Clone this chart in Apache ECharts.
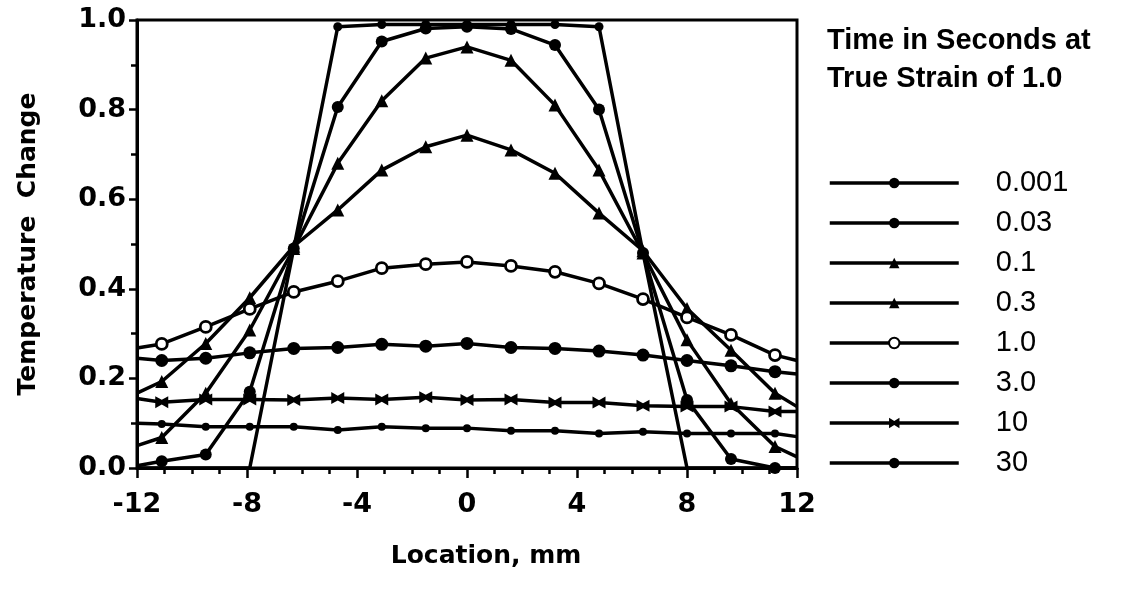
<!DOCTYPE html>
<html>
<head>
<meta charset="utf-8">
<script src="https://cdn.jsdelivr.net/npm/echarts@6/dist/echarts.min.js"></script>
<style>
html,body{margin:0;padding:0;background:#fff;}
#chart{width:1130px;height:605px;}
</style>
</head>
<body>
<div id="chart"></div>
<script>
// Location (mm) of each computed point; the first and last are the plot edges
const locations = [-12, -11.1, -9.5, -7.9, -6.3, -4.7, -3.1, -1.5, 0, 1.6, 3.2, 4.8, 6.4, 8.0, 9.6, 11.2, 12];

// Temperature change for each time (seconds at true strain of 1.0)
const t0001 = [0, 0, 0, 0, 0.49, 0.985, 0.99, 0.99, 0.99, 0.99, 0.99, 0.985, 0.48, 0, 0, 0, 0];
const t003  = [0.005, 0.015, 0.03, 0.17, 0.49, 0.806, 0.952, 0.981, 0.985, 0.98, 0.944, 0.80, 0.48, 0.152, 0.02, 0.0, 0.0];
const t01   = [0.05, 0.068, 0.167, 0.308, 0.49, 0.68, 0.82, 0.915, 0.94, 0.91, 0.81, 0.665, 0.48, 0.286, 0.144, 0.048, 0.025];
const t03   = [0.167, 0.193, 0.278, 0.38, 0.495, 0.576, 0.665, 0.717, 0.743, 0.71, 0.658, 0.569, 0.485, 0.356, 0.263, 0.167, 0.137];
const t1    = [0.268, 0.277, 0.315, 0.355, 0.393, 0.417, 0.446, 0.455, 0.46, 0.451, 0.438, 0.412, 0.377, 0.336, 0.297, 0.252, 0.24];
const t3    = [0.245, 0.24, 0.245, 0.257, 0.267, 0.269, 0.276, 0.272, 0.278, 0.269, 0.267, 0.261, 0.252, 0.24, 0.228, 0.215, 0.21];
const t10   = [0.155, 0.147, 0.153, 0.153, 0.152, 0.156, 0.153, 0.158, 0.152, 0.153, 0.146, 0.146, 0.139, 0.137, 0.137, 0.126, 0.126];
const t30   = [0.10, 0.098, 0.092, 0.092, 0.092, 0.085, 0.092, 0.089, 0.089, 0.083, 0.083, 0.077, 0.081, 0.077, 0.077, 0.077, 0.07];

const seriesNames = ['0.001', '0.03', '0.1', '0.3', '1.0', '3.0', '10', '30'];
const xTickValues = [-12, -8, -4, 0, 4, 8, 12];
const xTickLabels = ['-12', '-8', '-4', '0', '4', '8', '12'];
const yTickValues = [0, 0.2, 0.4, 0.6, 0.8, 1.0];
const yTickLabels = ['0.0', '0.2', '0.4', '0.6', '0.8', '1.0'];

const titleText = 'Time in Seconds at\nTrue Strain of 1.0';
const xAxisTitle = 'Location, mm';
const yAxisTitle = 'Temperature  Change';

const allValues = [t0001, t003, t01, t03, t1, t3, t10, t30];
const markers = [
  {symbol: 'circle', size: 9, fill: '#000'},
  {symbol: 'circle', size: 12, fill: '#000'},
  {symbol: 'triangle', size: 13, fill: '#000'},
  {symbol: 'triangle', size: 13, fill: '#000'},
  {symbol: 'circle', size: 11, fill: '#fff'},
  {symbol: 'circle', size: 13, fill: '#000'},
  {symbol: 'path://M0,0 L5,3 L10,0 L10,10 L5,7 L0,10 Z', size: [13, 12], fill: '#000'},
  {symbol: 'circle', size: 8, fill: '#000'}
];

function buildData(vals, hideZeros) {
  return vals.map(function (v, i) {
    const item = {value: [locations[i], v]};
    if (i === 0 || i === vals.length - 1 || (hideZeros && v === 0)) item.symbol = 'none';
    return item;
  });
}

const series = allValues.map(function (vals, k) {
  const m = markers[k];
  return {
    name: seriesNames[k],
    type: 'line',
    data: buildData(vals, k === 0),
    symbol: m.symbol,
    symbolSize: m.size,
    showAllSymbol: true,
    clip: false,
    lineStyle: {color: '#000', width: 3.5},
    itemStyle: {color: m.fill, borderColor: '#000', borderWidth: k === 4 ? 2.8 : 0},
    emphasis: {disabled: true},
    z: 3
  };
});

const axisFont = 'DejaVu Sans';
const chart = echarts.init(document.getElementById('chart'), null, {renderer: 'canvas'});
chart.setOption({
  animation: false,
  backgroundColor: '#fff',
  title: {
    text: titleText,
    left: 822,
    top: 17,
    textStyle: {fontFamily: 'Liberation Sans', fontSize: 29, fontWeight: 'bold', color: '#000', lineHeight: 38}
  },
  legend: {
    orient: 'vertical',
    left: 823,
    top: 162,
    itemWidth: 129,
    itemHeight: 13,
    itemGap: 8,
    data: seriesNames,
    lineStyle: {width: 3.5, color: '#000'},
    textStyle: {fontFamily: 'Liberation Sans', fontSize: 29, color: '#000', lineHeight: 32, padding: [0, 0, 0, 32]},
    selectedMode: false
  },
  grid: {
    left: 137, right: 333, top: 20, bottom: 137,
    show: true, borderColor: '#000', borderWidth: 3, backgroundColor: 'transparent'
  },
  xAxis: {
    type: 'value',
    min: -12, max: 12, interval: 4,
    name: xAxisTitle,
    nameLocation: 'middle',
    nameGap: 76,
    nameTextStyle: {fontFamily: axisFont, fontWeight: 'bold', fontSize: 25, color: '#000', padding: [0, 0, 0, 38]},
    axisLine: {show: true, onZero: false, lineStyle: {color: '#000', width: 3}},
    axisTick: {show: true, inside: false, length: 10, lineStyle: {color: '#000', width: 2.5}},
    minorTick: {show: true, splitNumber: 4, length: 6, lineStyle: {color: '#000', width: 2.5}},
    splitLine: {show: false},
    axisLabel: {
      margin: 23,
      fontFamily: axisFont, fontWeight: 'bold', fontSize: 27, color: '#000',
      formatter: function (v) { const i = xTickValues.indexOf(v); return i >= 0 ? xTickLabels[i] : ''; }
    }
  },
  yAxis: {
    type: 'value',
    min: 0, max: 1, interval: 0.2,
    name: yAxisTitle,
    nameLocation: 'middle',
    nameGap: 96,
    nameTextStyle: {fontFamily: axisFont, fontWeight: 'bold', fontSize: 25, color: '#000'},
    axisLine: {show: true, onZero: false, lineStyle: {color: '#000', width: 3}},
    axisTick: {show: true, inside: false, length: 8, lineStyle: {color: '#000', width: 2.5}},
    minorTick: {show: true, splitNumber: 2, length: 6, lineStyle: {color: '#000', width: 2.5}},
    splitLine: {show: false},
    axisLabel: {
      margin: 11,
      fontFamily: axisFont, fontWeight: 'bold', fontSize: 27, color: '#000',
      formatter: function (v) {
        for (let i = 0; i < yTickValues.length; i++) if (Math.abs(yTickValues[i] - v) < 1e-9) return yTickLabels[i];
        return '';
      }
    }
  },
  series: series
});
</script>
</body>
</html>
